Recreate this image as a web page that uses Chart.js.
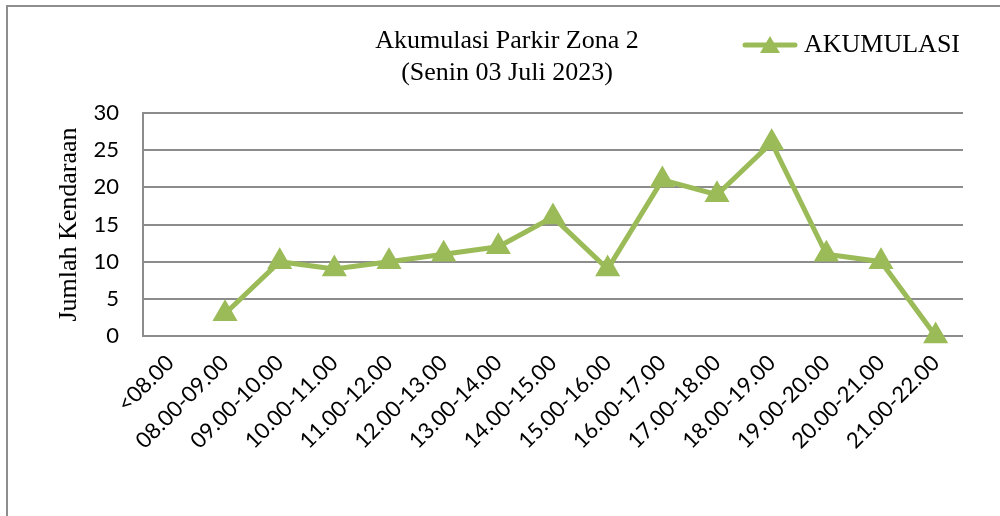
<!DOCTYPE html>
<html>
<head>
<meta charset="utf-8">
<script src="https://cdn.jsdelivr.net/npm/chart.js@4"></script>
<style>
  html, body { margin: 0; padding: 0; background: #fff; overflow: hidden; }
  #frame { position: absolute; left: 6px; top: 5px; width: 1100px; height: 700px; border: 2px solid #8e8e8e; }
  #myChart { position: absolute; left: 0; top: 0; }
</style>
</head>
<body>
<div id="frame"></div>
<canvas id="myChart" width="1000" height="516"></canvas>
<script>
// data
const labels = ['<08.00', '08.00-09.00', '09.00-10.00', '10.00-11.00', '11.00-12.00',
    '12.00-13.00', '13.00-14.00', '14.00-15.00', '15.00-16.00', '16.00-17.00',
    '17.00-18.00', '18.00-19.00', '19.00-20.00', '20.00-21.00', '21.00-22.00'];
const akumulasi = [null, 3, 10, 9, 10, 11, 12, 16, 9, 21, 19, 26, 11, 10, 0];
const seriesName = 'AKUMULASI';
const titleLines = ['Akumulasi Parkir Zona 2', '(Senin 03 Juli 2023)'];
const yAxisTitle = 'Jumlah Kendaraan';
const yMin = 0, yMax = 30, yStep = 5;

const green = '#9bbb59';
const grey = '#8c8c8c';

// legend icon: line with a triangle, like the Excel legend
const icon = document.createElement('canvas');
icon.width = 56;
icon.height = 24;
const ic = icon.getContext('2d');
ic.strokeStyle = green;
ic.lineWidth = 5;
ic.lineCap = 'round';
ic.beginPath();
ic.moveTo(3, 12);
ic.lineTo(53, 12);
ic.stroke();
ic.fillStyle = green;
ic.beginPath();
ic.moveTo(28, 3);
ic.lineTo(38, 20);
ic.lineTo(18, 20);
ic.closePath();
ic.fill();

// two line title drawn over the plot, centred like the original
const titlePlugin = {
    id: 'twoLineTitle',
    afterDraw(chart) {
        const ctx = chart.ctx;
        ctx.save();
        ctx.font = '26px "Liberation Serif"';
        ctx.fillStyle = '#000';
        ctx.textAlign = 'center';
        ctx.textBaseline = 'alphabetic';
        ctx.fillText(titleLines[0], 507, 48);
        ctx.fillText(titleLines[1], 507, 80);
        ctx.restore();
    }
};

// move the legend up so it sits next to the first title line
const legendShift = {
    id: 'legendShift',
    afterLayout(chart) {
        const lg = chart.legend;
        lg.top -= 45;
        lg.bottom -= 45;
    }
};

const ctx = document.getElementById('myChart').getContext('2d');
const lineChart = new Chart(ctx, {
    type: 'line',
    data: {
        labels: labels,
        datasets: [{
            label: seriesName,
            data: akumulasi,
            borderColor: green,
            backgroundColor: green,
            borderWidth: 5,
            pointStyle: 'triangle',
            pointRadius: 13,
            pointBorderWidth: 1.5,
            pointBackgroundColor: green,
            pointBorderColor: green,
            tension: 0,
            spanGaps: false,
            clip: false
        }]
    },
    options: {
        responsive: false,
        animation: false,
        layout: {
            padding: { top: 74, right: 37, left: 0, bottom: 0 }
        },
        plugins: {
            legend: {
                position: 'top',
                align: 'end',
                labels: {
                    usePointStyle: true,
                    pointStyle: icon,
                    pointStyleWidth: 42,
                    padding: 3,
                    color: '#000',
                    font: { family: 'Liberation Serif', size: 26 }
                }
            },
            title: { display: false },
            tooltip: { enabled: false }
        },
        scales: {
            x: {
                offset: true,
                grid: { display: false, drawTicks: false },
                border: { display: false },
                ticks: {
                    autoSkip: false,
                    minRotation: 45,
                    maxRotation: 45,
                    padding: 14,
                    color: '#000',
                    font: { family: 'Lato', size: 22 }
                },
                afterFit(scale) { scale.height = 180; }
            },
            y: {
                min: yMin,
                max: yMax,
                ticks: {
                    stepSize: yStep,
                    padding: 24,
                    color: '#000',
                    font: { family: 'Lato', size: 22 }
                },
                grid: { color: grey, lineWidth: 2, drawTicks: false },
                border: { display: true, color: grey, width: 2 },
                title: {
                    display: true,
                    text: yAxisTitle,
                    color: '#000',
                    font: { family: 'Liberation Serif', size: 26 },
                    padding: { top: 54, bottom: 0 }
                },
                afterFit(scale) { scale.width = 143; }
            }
        }
    },
    plugins: [titlePlugin, legendShift]
});
</script>
</body>
</html>
